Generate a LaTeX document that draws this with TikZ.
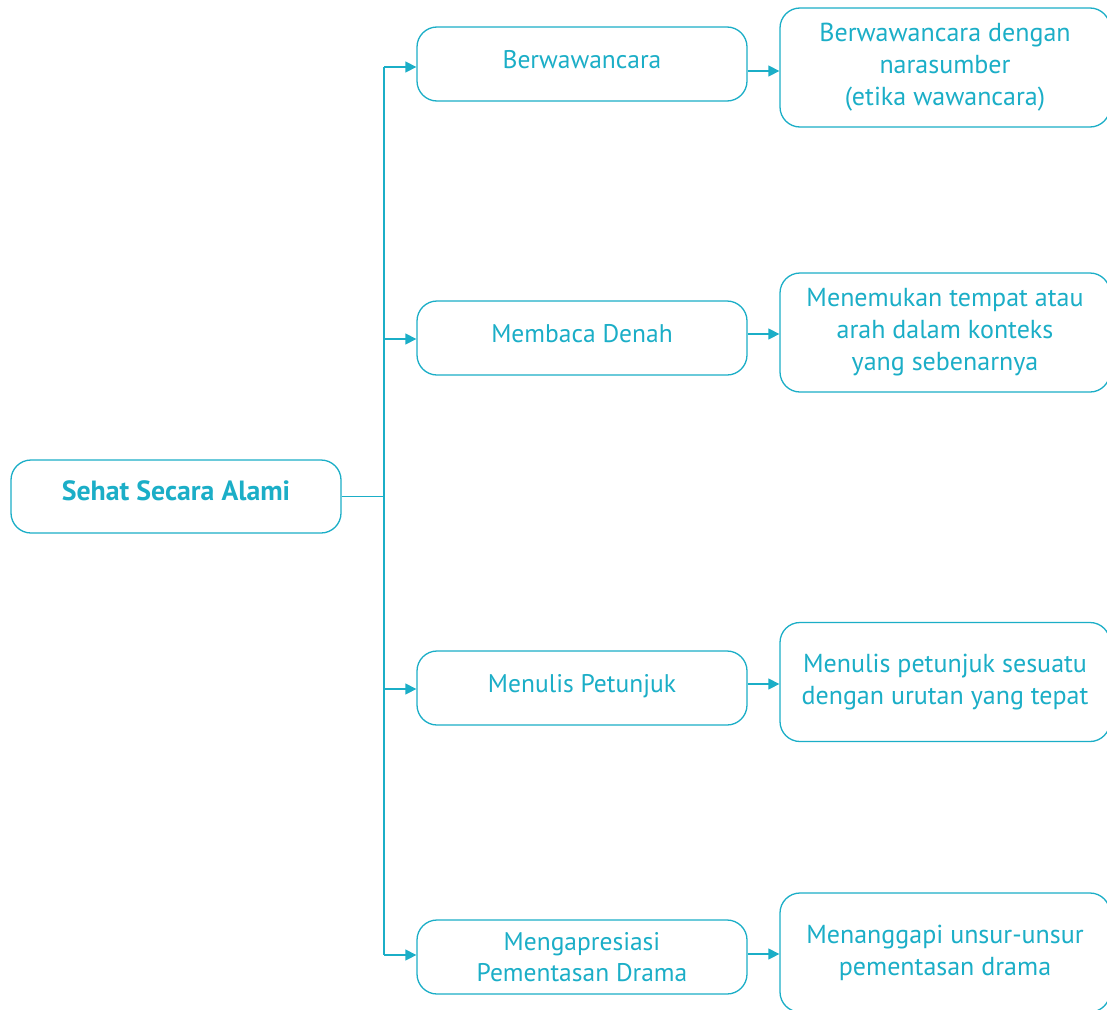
\documentclass[tikz,border=0pt]{standalone}
\usepackage{fontspec}
\setmainfont{PT Sans}
\usetikzlibrary{arrows.meta,calc}
\definecolor{teal1}{RGB}{27,174,199}
\begin{document}
\begin{tikzpicture}[x=1pt,y=-1pt,
  box/.style={draw=teal1, line width=1.3pt, rounded corners=20pt, fill=white,
    text=teal1, align=center, inner sep=0pt},
  oneline/.style={text height=18pt, text depth=10pt},
  midbox/.style={box, minimum width=330pt, minimum height=74pt,
    font=\fontsize{25.5}{31.5}\selectfont},
  rbox/.style={box, minimum width=330pt, minimum height=119pt,
    font=\fontsize{26}{32}\selectfont},
  link/.style={draw=teal1, line width=1.3pt},
  arr/.style={link, -{Triangle[length=11pt,width=11pt]}}]
\useasboundingbox (0,0) rectangle (1107,1009);
\clip (0,0) rectangle (1107,1009);

% root
\node[box, oneline, minimum width=330pt, minimum height=73pt,
  font=\fontsize{27.8}{32}\selectfont\bfseries]
  (root) at (176,496.5) {Sehat Secara Alami};

% middle column
\node[midbox, oneline] (m1) at (582,64) {Berwawancara};
\node[midbox, oneline] (m2) at (582,338) {Membaca Denah};
\node[midbox, oneline] (m3) at (582,688) {Menulis Petunjuk};
\node[midbox] (m4) at (582,957) {Mengapresiasi\\Pementasan Drama};

% right column
\node[rbox] (r1) at (945,67.5) {Berwawancara dengan\\narasumber\\(etika wawancara)};
\node[rbox] (r2) at (945,332.5) {Menemukan tempat atau\\arah dalam konteks\\yang sebenarnya};
\node[rbox] (r3) at (945,682) {Menulis petunjuk sesuatu\\dengan urutan yang tepat};
\node[rbox] (r4) at (945,952.5) {Menanggapi unsur-unsur\\pementasan drama};

% bus line and branches into the middle column (y axis points down)
\coordinate (bus) at (384,0);
\coordinate (in1) at ($(m1.west)+(0,3)$);
\coordinate (in2) at ($(m2.west)+(0,1)$);
\coordinate (in3) at ($(m3.west)+(0,1)$);
\coordinate (in4) at ($(m4.west)+(0,-2)$);
\draw[link] (root.east) -- (root.east -| bus);
\draw[link] (in1 -| bus) -- (in4 -| bus);
\foreach \p/\m in {in1/m1,in2/m2,in3/m3,in4/m4}
  \draw[arr] (\p -| bus) -- (\p -| \m.west);

% links to details
\coordinate (out1) at ($(m1.east)+(0,7)$);
\coordinate (out2) at ($(m2.east)+(0,-4)$);
\coordinate (out3) at ($(m3.east)+(0,-4)$);
\coordinate (out4) at ($(m4.east)+(0,-3)$);
\draw[arr] (out1) -- (out1 -| r1.west);
\draw[arr] (out2) -- (out2 -| r2.west);
\draw[arr] (out3) -- (out3 -| r3.west);
\draw[arr] (out4) -- (out4 -| r4.west);
\end{tikzpicture}
\end{document}
